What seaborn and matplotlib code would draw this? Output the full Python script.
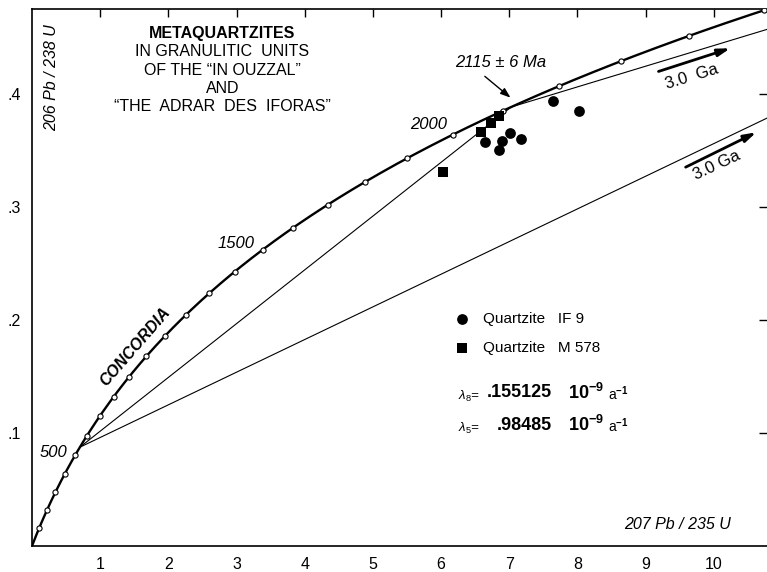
import numpy as np
import pandas as pd
import matplotlib
matplotlib.use("Agg")
import matplotlib.pyplot as plt
import seaborn as sns

# ---------------- data ----------------
LAMBDA_238 = 0.155125   # 1e-9 a^-1
LAMBDA_235 = 0.98485    # 1e-9 a^-1
marker_ages = [100, 200, 300, 400, 500, 600, 700, 800, 900, 1000, 1100, 1200,
               1300, 1400, 1500, 1600, 1700, 1800, 1900, 2000, 2100, 2200,
               2300, 2400, 2500]                       # Ma, ticks on concordia
lower_intercept = 540     # Ma
upper_intercept = 2115    # Ma
inherited_age = 3000      # Ma
if9_x = [7.64, 8.02, 6.64, 6.89, 7.01, 7.17, 6.85]
if9_y = [0.394, 0.385, 0.357, 0.358, 0.365, 0.360, 0.350]
m578_x = [6.58, 6.73, 6.85, 6.03]
m578_y = [0.366, 0.374, 0.380, 0.331]
x_ticks = [1, 2, 3, 4, 5, 6, 7, 8, 9, 10]
y_ticks = [0.1, 0.2, 0.3, 0.4]
y_tick_labels = [".1", ".2", ".3", ".4"]


def concordia(age_ma):
    t = np.asarray(age_ma, dtype=float) * 1e-3
    return np.exp(LAMBDA_235 * t) - 1.0, np.exp(LAMBDA_238 * t) - 1.0


# ---------------- style ----------------
sns.set_theme(style="white")
plt.rcParams["font.family"] = ["Liberation Sans", "DejaVu Sans"]
plt.rcParams["mathtext.fontset"] = "custom"
plt.rcParams["mathtext.rm"] = "Liberation Sans"
plt.rcParams["mathtext.it"] = "Liberation Sans:italic"
plt.rcParams["mathtext.bf"] = "Liberation Sans:bold"
plt.rcParams["text.color"] = "black"
plt.rcParams["axes.labelcolor"] = "black"
plt.rcParams["xtick.color"] = "black"
plt.rcParams["ytick.color"] = "black"
plt.rcParams["legend.labelcolor"] = "black"

fig = plt.figure(figsize=(7.67, 5.72), dpi=100)
ax = fig.add_axes([32 / 767, 26 / 572, 735 / 767, 537 / 572])

# concordia curve
ages = np.linspace(0, 2700, 500)
cx, cy = concordia(ages)
sns.lineplot(x=cx, y=cy, sort=False, estimator=None, color="black",
             linewidth=1.7, ax=ax, zorder=2)

# chords (discordia lines)
chords = [(lower_intercept, upper_intercept),
          (upper_intercept, inherited_age),
          (lower_intercept, inherited_age)]
rows = []
for i, (a, b) in enumerate(chords):
    xa, ya = concordia(a)
    xb, yb = concordia(b)
    rows.append({"seg": i, "x": float(xa), "y": float(ya)})
    rows.append({"seg": i, "x": float(xb), "y": float(yb)})
chord_df = pd.DataFrame(rows)
sns.lineplot(data=chord_df, x="x", y="y", units="seg", estimator=None,
             sort=False, color="black", linewidth=0.8, ax=ax, zorder=1)

# concordia age ticks
mx, my = concordia(marker_ages)
sns.scatterplot(x=mx, y=my, marker="o", s=14, facecolor="white",
                edgecolor="black", linewidth=0.8, ax=ax, zorder=3)

# data points
sns.scatterplot(x=if9_x, y=if9_y, marker="o", s=60, color="black",
                edgecolor="black", linewidth=0, ax=ax, zorder=4,
                label="Quartzite   IF 9")
sns.scatterplot(x=m578_x, y=m578_y, marker="s", s=60, color="black",
                edgecolor="black", linewidth=0, ax=ax, zorder=4,
                label="Quartzite   M 578")

leg = ax.legend(loc="upper left", bbox_to_anchor=(0.574, 0.436),
                frameon=False, fontsize=11, handlelength=1.0,
                handletextpad=0.9, labelspacing=1.0, borderpad=0,
                borderaxespad=0)
for t in leg.get_texts():
    t.set_color("black")

# axes
ax.set_xlim(0, 10.78)
ax.set_ylim(0, 0.475)
ax.set_xticks(x_ticks)
ax.set_xticklabels([str(v) for v in x_ticks])
ax.set_yticks(y_ticks)
ax.set_yticklabels(y_tick_labels)
ax.tick_params(direction="in", top=True, right=True, length=6, width=1,
               labelsize=11.5, colors="black")
ax.tick_params(axis="x", pad=8)
ax.tick_params(axis="y", pad=8)
ax.spines["right"].set_visible(False)
for s in ["left", "bottom", "top"]:
    ax.spines[s].set_color("black")
    ax.spines[s].set_linewidth(1.2)
ax.set_xlabel("")
ax.set_ylabel("")

# axis titles inside the frame
ax.text(0.29, 0.414, "206 Pb / 238 U", rotation=90, fontsize=11.5,
        style="italic", ha="center", va="center", color="black")
ax.text(9.46, 0.0186, "207 Pb / 235 U", fontsize=11.5, style="italic",
        ha="center", va="center", color="black")

# title block
title_lines = ["IN GRANULITIC  UNITS", "OF THE \u201cIN OUZZAL\u201d", "AND",
               "\u201cTHE  ADRAR  DES  IFORAS\u201d"]
ax.text(2.79, 0.453, "METAQUARTZITES", fontsize=11.5, fontweight="bold",
        ha="center", va="center", color="black")
for i, t in enumerate(title_lines):
    ax.text(2.79, 0.437 - i * 0.0161, t, fontsize=11.5, ha="center",
            va="center", color="black")

# curve labels
ax.text(1.51, 0.176, "CONCORDIA", fontsize=11.5, fontweight="bold",
        style="italic", rotation=49, ha="center", va="center", color="black")
ax.text(0.31, 0.083, "500", fontsize=12, style="italic", ha="center",
        va="center", color="black")
ax.text(3.0, 0.268, "1500", fontsize=12, style="italic", ha="center",
        va="center", color="black")
ax.text(5.81, 0.373, "2000", fontsize=12, style="italic", ha="center",
        va="center", color="black")

# 2115 Ma annotation
ax.text(6.88, 0.428, "2115 \u00b1 6 Ma", fontsize=12, style="italic",
        ha="center", va="center", color="black")
ax.annotate("", xy=(7.05, 0.395), xytext=(6.61, 0.417),
            arrowprops=dict(arrowstyle="-|>,head_length=0.5,head_width=0.18",
                            color="black", lw=1.0))

# 3.0 Ga arrows
ax.annotate("", xy=(10.28, 0.441), xytext=(9.15, 0.419),
            arrowprops=dict(arrowstyle="-|>,head_length=0.6,head_width=0.18",
                            color="black", lw=2.0))
ax.text(9.68, 0.415, "3.0  Ga", fontsize=12, rotation=17, ha="center",
        va="center", color="black")
ax.annotate("", xy=(10.66, 0.367), xytext=(9.55, 0.334),
            arrowprops=dict(arrowstyle="-|>,head_length=0.6,head_width=0.18",
                            color="black", lw=2.0))
ax.text(10.04, 0.337, "3.0 Ga", fontsize=12, rotation=25, ha="center",
        va="center", color="black")

# decay constants
for yv, sub, val in [(0.1354, "8", ".155125"), (0.107, "5", ".98485")]:
    ax.text(6.25, yv - 0.003, r"$\lambda_{%s}$=" % sub, fontsize=9.5,
            ha="left", va="center", style="italic", color="black")
    ax.text(7.62, yv, val, fontsize=13, fontweight="bold", ha="right",
            va="center", color="black")
    ax.text(7.86, yv, r"$\mathbf{10^{-9}}$", fontsize=13, ha="left",
            va="center", color="black")
    ax.text(8.45, yv - 0.001, r"a$^{\mathbf{-1}}$", fontsize=10, ha="left",
            va="center", color="black")

fig.savefig("out.png", dpi=100, facecolor="white")
